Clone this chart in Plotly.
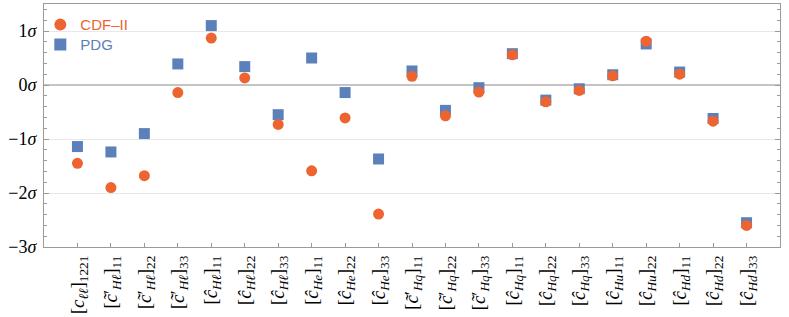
import plotly.graph_objects as go

categories = [
    "[<i>c</i><sub><i>ℓℓ</i></sub>]<sub>1221</sub>",
    "[<i>c̃</i>′<sub><i>Hℓ</i></sub>]<sub>11</sub>",
    "[<i>c̃</i>′<sub><i>Hℓ</i></sub>]<sub>22</sub>",
    "[<i>c̃</i>′<sub><i>Hℓ</i></sub>]<sub>33</sub>",
    "[<i>ĉ</i><sub><i>Hℓ</i></sub>]<sub>11</sub>",
    "[<i>ĉ</i><sub><i>Hℓ</i></sub>]<sub>22</sub>",
    "[<i>ĉ</i><sub><i>Hℓ</i></sub>]<sub>33</sub>",
    "[<i>ĉ</i><sub><i>He</i></sub>]<sub>11</sub>",
    "[<i>ĉ</i><sub><i>He</i></sub>]<sub>22</sub>",
    "[<i>ĉ</i><sub><i>He</i></sub>]<sub>33</sub>",
    "[<i>c̃</i>′<sub><i>Hq</i></sub>]<sub>11</sub>",
    "[<i>c̃</i>′<sub><i>Hq</i></sub>]<sub>22</sub>",
    "[<i>c̃</i>′<sub><i>Hq</i></sub>]<sub>33</sub>",
    "[<i>ĉ</i><sub><i>Hq</i></sub>]<sub>11</sub>",
    "[<i>ĉ</i><sub><i>Hq</i></sub>]<sub>22</sub>",
    "[<i>ĉ</i><sub><i>Hq</i></sub>]<sub>33</sub>",
    "[<i>ĉ</i><sub><i>Hu</i></sub>]<sub>11</sub>",
    "[<i>ĉ</i><sub><i>Hu</i></sub>]<sub>22</sub>",
    "[<i>ĉ</i><sub><i>Hd</i></sub>]<sub>11</sub>",
    "[<i>ĉ</i><sub><i>Hd</i></sub>]<sub>22</sub>",
    "[<i>ĉ</i><sub><i>Hd</i></sub>]<sub>33</sub>",
]

cdf_values = [-1.45, -1.90, -1.68, -0.14, 0.87, 0.13, -0.73, -1.59, -0.61, -2.39,
              0.16, -0.57, -0.13, 0.56, -0.31, -0.10, 0.17, 0.81, 0.20, -0.67, -2.60]
pdg_values = [-1.14, -1.24, -0.90, 0.39, 1.10, 0.34, -0.55, 0.50, -0.14, -1.37,
              0.26, -0.47, -0.05, 0.58, -0.28, -0.07, 0.19, 0.76, 0.24, -0.62, -2.55]

y_tick_vals = [-3, -2, -1, 0, 1]
y_tick_text = ["−3<i>σ</i>", "−2<i>σ</i>", "−1<i>σ</i>", "0<i>σ</i>", "1<i>σ</i>"]

ORANGE = "#EE6431"
BLUE = "#5B80BA"

x_idx = list(range(len(categories)))

fig = go.Figure()
fig.add_trace(go.Scatter(
    x=x_idx, y=pdg_values, mode="markers",
    name=f"<span style='color:{BLUE}'>PDG</span>",
    marker=dict(symbol="square", size=11, color=BLUE),
    legend="legend2",
))
fig.add_trace(go.Scatter(
    x=x_idx, y=cdf_values, mode="markers",
    name=f"<span style='color:{ORANGE}'>CDF–II</span>",
    marker=dict(symbol="circle", size=11, color=ORANGE),
    legend="legend",
))

legend_common = dict(xanchor="left", yanchor="top", bgcolor="rgba(0,0,0,0)", borderwidth=0,
                     font=dict(family="Liberation Sans, Arial, sans-serif", size=15),
                     itemsizing="constant")

axis_line = "#9a9a9a"
fig.update_layout(
    width=789, height=317,
    margin=dict(l=44, r=9, t=4, b=70, autoexpand=False),
    plot_bgcolor="white", paper_bgcolor="white",
    showlegend=True,
    legend=dict(x=-0.005, y=0.982, **legend_common),
    legend2=dict(x=-0.005, y=0.900, **legend_common),
    xaxis=dict(
        range=[-1, 21], tickmode="array", tickvals=x_idx, ticktext=categories,
        tickangle=-90, ticks="inside", ticklen=4, tickcolor=axis_line,
        showline=True, linecolor=axis_line, linewidth=1, mirror=True,
        showgrid=False, zeroline=False, automargin=False,
        tickfont=dict(family="Liberation Serif, DejaVu Serif, serif", size=19, color="black"),
    ),
    yaxis=dict(
        range=[-3, 1.5], tickmode="array", tickvals=y_tick_vals, ticktext=y_tick_text,
        ticks="inside", ticklen=5, tickcolor=axis_line, ticklabelstandoff=3,
        minor=dict(dtick=0.2, tick0=0, ticks="inside", ticklen=3, tickcolor=axis_line, showgrid=False),
        showline=True, linecolor=axis_line, linewidth=1, mirror="ticks",
        showgrid=True, gridcolor="#e8e8e8", gridwidth=1,
        zeroline=True, zerolinecolor="#c4c4c4", zerolinewidth=1.5, automargin=False,
        tickfont=dict(family="Liberation Serif, DejaVu Serif, serif", size=18, color="black"),
    ),
)

fig.write_html("out.html", config={"displayModeBar": False},
               post_script="document.body.style.margin='0';")
